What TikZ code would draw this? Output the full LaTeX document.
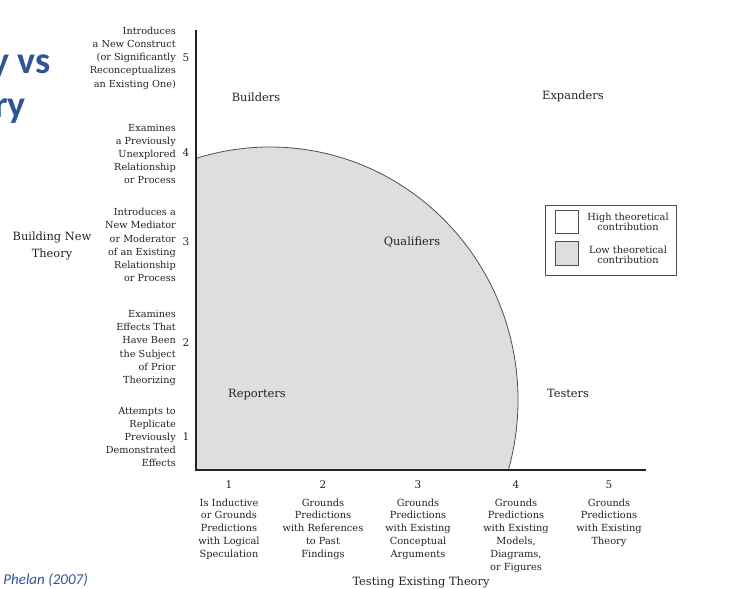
\documentclass[tikz,border=0pt]{standalone}
\usepackage{fontspec}
\setmainfont{DejaVu Serif}
\newfontfamily\calib{Carlito}
\definecolor{slideblue}{RGB}{47,85,151}
\definecolor{lowfill}{RGB}{222,222,222}
\definecolor{ink}{RGB}{35,35,35}
\begin{document}
\begin{tikzpicture}[x=1pt,y=-1pt,
  lbl/.style={font=\fontsize{9.7}{13.2}\selectfont, text=ink, inner sep=0pt},
  leftlbl/.style={lbl, align=right, anchor=east},
  botlbl/.style={lbl, align=center, anchor=north, font=\fontsize{9.8}{12.8}\selectfont},
  ticklbl/.style={lbl, font=\fontsize{10.5}{11}\selectfont},
  region/.style={lbl, font=\fontsize{11.4}{13}\selectfont},
  axisline/.style={draw=ink, line width=1.5pt},
  curveline/.style={draw=ink!80, line width=0.8pt},
  legbox/.style={draw=ink!80, line width=0.7pt},
  legtext/.style={lbl, align=center, font=\fontsize{9.8}{10.5}\selectfont},
  title/.style={font=\calib\bfseries\fontsize{38}{40}\selectfont, text=slideblue, inner sep=0pt},
]
\useasboundingbox (0,0) rectangle (734,589);
\clip (0,0) rectangle (734,589);

% shaded region
\begin{scope}
  \clip (196,0) rectangle (646,470);
  \fill[lowfill] (270,400) ellipse [x radius=248pt, y radius=253pt];
  \draw[curveline] (270,400) ellipse [x radius=248pt, y radius=253pt];
\end{scope}

% axes
\coordinate (ytop) at (196,30);
\coordinate (orig) at (196,470);
\coordinate (xend) at (646,470);
\draw[axisline] (ytop) -- (orig) -- (xend);

% y tick numbers
\node[ticklbl] (y5) at (186,58) {5};
\node[ticklbl] (y4) at (186,153) {4};
\node[ticklbl] (y3) at (186,242) {3};
\node[ticklbl] (y2) at (186,343) {2};
\node[ticklbl] (y1) at (186,437) {1};

% y descriptors
\node[leftlbl] (d5) at (176,58) {Introduces\\a New Construct\\(or Significantly\\Reconceptualizes\\an Existing One)};
\node[leftlbl] (d4) at (176,154) {Examines\\a Previously\\Unexplored\\Relationship\\or Process};
\node[leftlbl] (d3) at (176,245) {Introduces a\\New Mediator\\or Moderator\\of an Existing\\Relationship\\or Process};
\node[leftlbl] (d2) at (176,348) {Examines\\Effects That\\Have Been\\the Subject\\of Prior\\Theorizing};
\node[leftlbl] (d1) at (176,437) {Attempts to\\Replicate\\Previously\\Demonstrated\\Effects};

\node[lbl, align=center, font=\fontsize{11.4}{17}\selectfont] (ylab) at (52,246) {Building New\\Theory};

% x tick numbers
\node[ticklbl] (x1) at (229,485) {1};
\node[ticklbl] (x2) at (323,485) {2};
\node[ticklbl] (x3) at (418,485) {3};
\node[ticklbl] (x4) at (516,485) {4};
\node[ticklbl] (x5) at (609,485) {5};

% x descriptors
\node[botlbl] (b1) at (229,498.5) {Is Inductive\\or Grounds\\Predictions\\with Logical\\Speculation};
\node[botlbl] (b2) at (323,498.5) {Grounds\\Predictions\\with References\\to Past\\Findings};
\node[botlbl] (b3) at (418,498.5) {Grounds\\Predictions\\with Existing\\Conceptual\\Arguments};
\node[botlbl] (b4) at (516,498.5) {Grounds\\Predictions\\with Existing\\Models,\\Diagrams,\\or Figures};
\node[botlbl] (b5) at (609,498.5) {Grounds\\Predictions\\with Existing\\Theory};

\node[region] (xlab) at (421,582) {Testing Existing Theory};

% regions
\node[region] (builders) at (256,97) {Builders};
\node[region] (expanders) at (573,96) {Expanders};
\node[region] (qualifiers) at (412,242) {Qualifiers};
\node[region] (reporters) at (257,395) {Reporters};
\node[region] (testers) at (568,393) {Testers};

% legend
\node[legbox, minimum width=131, minimum height=70, inner sep=0pt] (legend) at (610.5,240) {};
\node[draw=ink!80, line width=0.6pt, fill=white, minimum width=23, minimum height=23, inner sep=0pt] (hibox) at (566.5,222) {};
\node[draw=ink!80, line width=0.6pt, fill=lowfill, minimum width=23, minimum height=24, inner sep=0pt] (lobox) at (566.5,253) {};
\node[legtext] (hitext) at (628,222) {High theoretical\\contribution};
\node[legtext] (lotext) at (628,255) {Low theoretical\\contribution};

% slide fragments
\node[title, anchor=base east] (t1) at (51,73) {y vs};
\node[title, anchor=base east] (t2) at (26,117) {ry};
\node[inner sep=0pt, anchor=base east, font=\calib\itshape\fontsize{15}{17}\selectfont, text=slideblue] (cite) at (88,584) {Phelan (2007)};
\end{tikzpicture}
\end{document}
